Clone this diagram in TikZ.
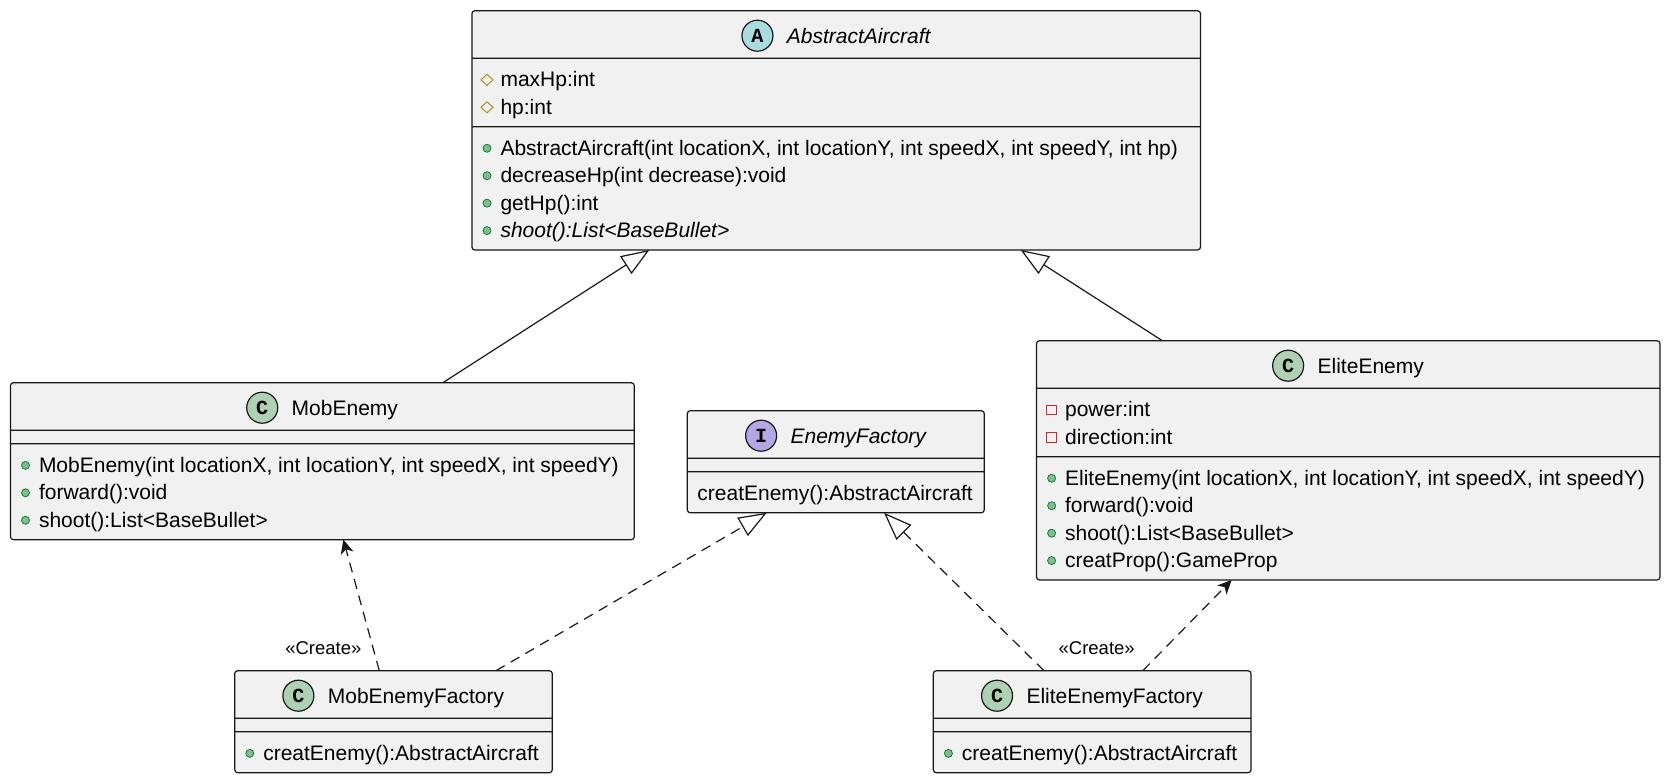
\documentclass[tikz,border=0pt]{standalone}
\usepackage{fontspec}
\setmainfont{Liberation Sans}
\newfontfamily\iconfont{Liberation Mono}
\usepackage{tikz}
\usetikzlibrary{shapes}
\usetikzlibrary{shapes.multipart}
\usetikzlibrary{arrows.meta}

\definecolor{boxfill}{HTML}{F1F1F1}
\definecolor{boxline}{HTML}{181818}
\definecolor{abstractcol}{HTML}{A9DCDF}
\definecolor{classcol}{HTML}{ADD1B2}
\definecolor{interfacecol}{HTML}{B4A7E5}
\definecolor{pubfill}{HTML}{84BE84}
\definecolor{publine}{HTML}{038048}
\definecolor{protline}{HTML}{B38D22}
\definecolor{privline}{HTML}{C82930}

\newcommand{\titlestrut}{\rule[-8.25pt]{0pt}{34.1pt}}
\newcommand{\rowstrut}{\rule[-5.65pt]{0pt}{27.45pt}}
\newcommand{\nofields}{\raisebox{0pt}[-2pt][0pt]{\rule{1pt}{0pt}}}
\newcommand{\pubicon}{\tikz[baseline=-7pt, sharp corners]{\useasboundingbox (-5pt,-5pt) rectangle (5pt,5pt);
  \filldraw[fill=pubfill, draw=publine, line width=0.8pt] (0pt,0pt) circle[radius=4pt];}}
\newcommand{\proticon}{\tikz[baseline=-7pt, sharp corners]{\useasboundingbox (-5pt,-5pt) rectangle (5pt,5pt);
  \draw[protline, line width=1pt] (-6pt,0pt) -- (0pt,5.5pt) -- (6pt,0pt) -- (0pt,-5.5pt) -- cycle;}}
\newcommand{\privicon}{\tikz[baseline=-7pt, sharp corners]{\useasboundingbox (-5pt,-5pt) rectangle (5pt,5pt);
  \draw[privline, line width=1pt] (-4.8pt,-4.8pt) rectangle (4.8pt,4.8pt);}}
\newcommand{\member}[2]{\hbox{\rowstrut#1\hspace{8.5pt}#2}}
\newcommand{\members}[1]{\vbox{\offinterlineskip#1}}

\tikzset{
  umlclass/.style={draw=boxline, fill=boxfill, line width=1.2pt, rounded corners=3pt,
    rectangle split, rectangle split parts=3,
    rectangle split part align={center,left,left},
    inner xsep=10.1pt, inner ysep=6.15pt, outer sep=0pt, anchor=north west,
    font=\fontsize{21}{27.45}\selectfont},
  classicon/.style={circle, draw=boxline, line width=1.2pt, minimum size=31pt,
    inner sep=0pt, font=\iconfont\bfseries\fontsize{20}{20}\selectfont},
  inherit/.style={line width=1.2pt, draw=boxline,
    -{Triangle[open, length=28pt, width=21pt]}},
  realize/.style={inherit, dash pattern=on 10pt off 7pt},
  creates/.style={line width=1.2pt, draw=boxline, dash pattern=on 10pt off 7pt,
    -{Stealth[length=14pt, width=13pt, inset=4pt]}},
  stereo/.style={font=\fontsize{18.5}{22}\selectfont, inner sep=0pt}
}

\begin{document}
\begin{tikzpicture}[x=1pt, y=-1pt]
\useasboundingbox (0,0) rectangle (1669,779);

\node[umlclass, minimum width=728.6pt] (abstract) at (471.9,10.7)
  {\hspace{45pt}\titlestrut\itshape AbstractAircraft
   \nodepart{second} \members{\member{\proticon}{maxHp:int}
     \member{\proticon}{hp:int}}
   \nodepart{third} \members{\member{\pubicon}{AbstractAircraft(int locationX, int locationY, int speedX, int speedY, int hp)}
     \member{\pubicon}{decreaseHp(int decrease):void}
     \member{\pubicon}{getHp():int}
     \member{\pubicon}{\itshape shoot():List<BaseBullet>}}};
\node[umlclass, minimum width=623.9pt] (mob) at (10.4,382.7)
  {\hspace{45pt}\titlestrut MobEnemy
   \nodepart{second}\nofields
   \nodepart{third} \members{\member{\pubicon}{MobEnemy(int locationX, int locationY, int speedX, int speedY)}
     \member{\pubicon}{forward():void}
     \member{\pubicon}{shoot():List<BaseBullet>}}};
\node[umlclass, minimum width=297pt] (factory) at (687.3,410.7)
  {\hspace{45pt}\titlestrut\itshape EnemyFactory
   \nodepart{second}\nofields
   \nodepart{third} \members{\hbox{\rowstrut creatEnemy():AbstractAircraft}}};
\node[umlclass, minimum width=623.5pt] (elite) at (1036.5,340.7)
  {\hspace{45pt}\titlestrut EliteEnemy
   \nodepart{second} \members{\member{\privicon}{power:int}
     \member{\privicon}{direction:int}}
   \nodepart{third} \members{\member{\pubicon}{EliteEnemy(int locationX, int locationY, int speedX, int speedY)}
     \member{\pubicon}{forward():void}
     \member{\pubicon}{shoot():List<BaseBullet>}
     \member{\pubicon}{creatProp():GameProp}}};
\node[umlclass, minimum width=317.6pt] (mobfactory) at (234.7,670.7)
  {\hspace{45pt}\titlestrut MobEnemyFactory
   \nodepart{second}\nofields
   \nodepart{third} \members{\member{\pubicon}{creatEnemy():AbstractAircraft}}};
\node[umlclass, minimum width=317.7pt] (elitefactory) at (933.3,670.7)
  {\hspace{45pt}\titlestrut EliteEnemyFactory
   \nodepart{second}\nofields
   \nodepart{third} \members{\member{\pubicon}{creatEnemy():AbstractAircraft}}};

\node[classicon, fill=abstractcol] (abstracticon) at ([xshift=15.5pt, yshift=7.6pt]abstract.text) {A};
\node[classicon, fill=classcol] (mobicon) at ([xshift=15.5pt, yshift=7.6pt]mob.text) {C};
\node[classicon, fill=interfacecol] (factoryicon) at ([xshift=15.5pt, yshift=7.6pt]factory.text) {I};
\node[classicon, fill=classcol] (eliteicon) at ([xshift=15.5pt, yshift=7.6pt]elite.text) {C};
\node[classicon, fill=classcol] (mobfactoryicon) at ([xshift=15.5pt, yshift=7.6pt]mobfactory.text) {C};
\node[classicon, fill=classcol] (elitefactoryicon) at ([xshift=15.5pt, yshift=7.6pt]elitefactory.text) {C};

\draw[inherit] ([xshift=120.5pt]mob.north) -- ([xshift=-186.9pt]abstract.south);
\draw[inherit] ([xshift=-185.9pt]elite.north) -- ([xshift=184.5pt]abstract.south);
\draw[realize] ([xshift=102.5pt]mobfactory.north) -- ([xshift=-69.1pt]factory.south);
\draw[realize] ([xshift=-48.2pt]elitefactory.north) -- ([xshift=48.2pt]factory.south);
\draw[creates] ([xshift=-14.2pt]mobfactory.north) -- ([xshift=21pt]mob.south)
  node[stereo, pos=0.174, anchor=east, xshift=-11pt] (mobcreate) {«Create»};
\draw[creates] ([xshift=50.6pt]elitefactory.north) -- ([xshift=-116.6pt]elite.south)
  node[stereo, pos=0.254, anchor=east, xshift=-30pt] (elitecreate) {«Create»};
\end{tikzpicture}
\end{document}
